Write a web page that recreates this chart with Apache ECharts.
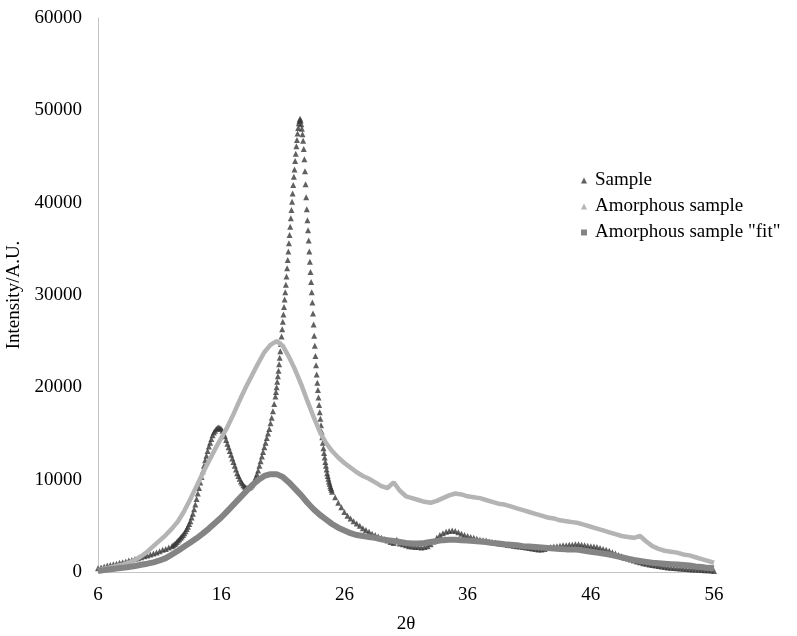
<!DOCTYPE html>
<html>
<head>
<meta charset="utf-8">
<script src="https://cdn.jsdelivr.net/npm/echarts@6/dist/echarts.min.js"></script>
<style>
  html, body { margin: 0; padding: 0; background: #fff; }
  #chart { width: 797px; height: 636px; }
</style>
</head>
<body>
<div id="chart"></div>
<script>
// ---- Axis ticks ----
const xTicks = [6, 16, 26, 36, 46, 56];
const yTicks = [0, 10000, 20000, 30000, 40000, 50000, 60000];

// ---- Sample (measured every step; segments of the 2θ scan) ----
// 6.00 – 11.75, step 0.25
const sampleLowStart = 6.0, sampleLowStep = 0.25;
const sampleLow = [
  400, 500, 600, 700, 750, 850, 900, 1000,
  1050, 1150, 1250, 1300, 1400, 1500, 1600, 1700,
  1800, 1900, 2000, 2100, 2250, 2400, 2500, 2650
];
// 12.0 – 20.4, step 0.1
const sampleMidStart = 12.0, sampleMidStep = 0.1;
const sampleMid = [
  2800, 2900, 3000, 3100, 3250, 3400, 3550, 3700, 3850, 4000,
  4200, 4400, 4650, 4900, 5200, 5500, 5900, 6300, 6800, 7300,
  7900, 8500, 9100, 9700, 10300, 10900, 11500, 12100, 12600, 13100,
  13600, 14000, 14400, 14800, 15100, 15300, 15500, 15600, 15650, 15600,
  15500, 15300, 15000, 14700, 14300, 13900, 13500, 13100, 12700, 12300,
  11900, 11500, 11100, 10700, 10400, 10100, 9800, 9600, 9400, 9250,
  9150, 9100, 9100, 9150, 9250, 9400, 9600, 9900, 10200, 10600,
  11000, 11500, 12000, 12500, 13000, 13500, 14000, 14500, 15000, 15500,
  16100, 16700, 17400, 18200, 19000
];
// 20.45 – 25.00, step 0.05 (main crystalline peak)
const samplePeakStart = 20.45, samplePeakStep = 0.05;
const samplePeak = [
  19500, 20000, 20600, 21200, 21800, 22500, 23200, 23900, 24700, 25500,
  26300, 27100, 27900, 28700, 29500, 30300, 31100, 32000, 32900, 33800,
  34700, 35600, 36500, 37400, 38300, 39200, 40100, 41000, 41900, 42800,
  43600, 44500, 45300, 46100, 46800, 47500, 48100, 48600, 48900, 49100,
  48900, 48500, 48000, 47400, 46700, 45800, 44700, 43400, 42000, 40600,
  39300, 38100, 37000, 35900, 34700, 33600, 32500, 31400, 30300, 29200,
  28000, 26800, 25600, 24500, 23400, 22400, 21400, 20500, 19700, 18900,
  18100, 17300, 16600, 15900, 15200, 14600, 14000, 13400, 12900, 12400,
  11900, 11500, 11100, 10700, 10400, 10100, 9800, 9550, 9300, 9100,
  8900, 8700
];
// 25.25 – 56.00, step 0.25
const sampleHighStart = 25.25, sampleHighStep = 0.25;
const sampleHigh = [
  8100, 7500, 7000, 6500, 6100, 5800, 5500, 5250,
  5000, 4750, 4550, 4350, 4150, 4000, 3850, 3700,
  3550, 3400, 3250, 3150, 3500, 3100, 3000, 2900,
  2800, 2750, 2700, 2700, 2650, 2700, 2800, 3000,
  3300, 3700, 4000, 4200, 4350, 4450, 4500, 4450,
  4300, 4150, 4000, 3900, 3800, 3700, 3600, 3500,
  3450, 3400, 3300, 3250, 3200, 3100, 3050, 3000,
  2950, 2900, 2850, 2800, 2750, 2700, 2650, 2600,
  2550, 2500, 2450, 2450, 2500, 2600, 2700, 2750,
  2800, 2850, 2900, 2900, 2950, 2950, 3000, 3000,
  2950, 2900, 2850, 2800, 2750, 2700, 2600, 2500,
  2400, 2300, 2150, 2000, 1850, 1700, 1550, 1450,
  1350, 1250, 1150, 1050, 950, 900, 800, 750,
  700, 650, 600, 550, 500, 450, 420, 400,
  370, 350, 320, 300, 280, 260, 240, 220,
  200, 180, 150, 100
];

// ---- Amorphous sample, 6 – 56, step 0.5 ----
const amorphousStart = 6.0, amorphousStep = 0.5;
const amorphous = [
  200, 350, 500, 650, 800, 1000, 1300, 1700, 2200, 2800,
  3400, 4000, 4700, 5500, 6600, 7900, 9300, 10700, 12000, 13300,
  14500, 15700, 17100, 18600, 20000, 21300, 22600, 23800, 24600, 25000,
  24500, 23300, 21900, 20300, 18500, 16800, 15200, 14000, 13100, 12400,
  11800, 11300, 10800, 10400, 10100, 9700, 9300, 9100, 9700, 8800,
  8200, 8000, 7800, 7600, 7500, 7700, 8000, 8300, 8500, 8400,
  8200, 8100, 8000, 7800, 7600, 7400, 7300, 7100, 6900, 6700,
  6500, 6300, 6100, 5900, 5800, 5600, 5500, 5400, 5300, 5100,
  4900, 4700, 4500, 4300, 4100, 3900, 3800, 3700, 3900, 3300,
  2800, 2500, 2300, 2200, 2100, 1900, 1800, 1600, 1400, 1200,
  1000
];

// ---- Amorphous sample "fit", 6 – 56, step 0.5 ----
const fitStart = 6.0, fitStep = 0.5;
const amorphousFit = [
  100, 200, 300, 380, 450, 550, 650, 780, 900, 1050,
  1250, 1500, 1900, 2300, 2750, 3200, 3650, 4150, 4700, 5300,
  5900, 6600, 7300, 8000, 8700, 9400, 9950, 10400, 10600, 10600,
  10300, 9700, 9000, 8300, 7500, 6800, 6200, 5700, 5200, 4800,
  4500, 4200, 4000, 3900, 3800, 3700, 3550, 3450, 3350, 3250,
  3150, 3100, 3100, 3150, 3250, 3350, 3450, 3500, 3500, 3450,
  3400, 3350, 3300, 3250, 3150, 3100, 3000, 2950, 2900, 2800,
  2750, 2700, 2650, 2600, 2550, 2500, 2450, 2450, 2400, 2300,
  2200, 2100, 2000, 1900, 1750, 1600, 1450, 1300, 1200, 1100,
  1000, 950, 900, 850, 800, 750, 700, 600, 550, 450,
  400
];

const seriesNames = ['Sample', 'Amorphous sample', 'Amorphous sample "fit"'];

function pairs(start, step, values) {
  return values.map((v, i) => [+(start + i * step).toFixed(3), v]);
}

const sampleData = []
  .concat(pairs(sampleLowStart, sampleLowStep, sampleLow))
  .concat(pairs(sampleMidStart, sampleMidStep, sampleMid))
  .concat(pairs(samplePeakStart, samplePeakStep, samplePeak))
  .concat(pairs(sampleHighStart, sampleHighStep, sampleHigh));

const FONT = 'Liberation Serif';
const cDark = '#383838', cLight = '#b4b4b4', cMid = '#848484';

const chart = echarts.init(document.getElementById('chart'), null, { renderer: 'canvas' });
chart.setOption({
  animation: false,
  backgroundColor: '#ffffff',
  grid: { left: 98, right: 83, top: 18, bottom: 64, containLabel: false, outerBoundsMode: 'none' },
  legend: {
    orient: 'vertical',
    left: 576,
    top: 166,
    itemWidth: 6,
    itemHeight: 6,
    itemGap: 7,
    textStyle: { fontFamily: FONT, fontSize: 19, color: '#000', padding: [0, 0, 0, 3] },
    data: [
      { name: seriesNames[0], icon: 'triangle', itemStyle: { color: cDark } },
      { name: seriesNames[1], icon: 'triangle', itemStyle: { color: cLight } },
      { name: seriesNames[2], icon: 'rect', itemStyle: { color: cMid } }
    ]
  },
  xAxis: {
    type: 'value',
    min: xTicks[0],
    max: xTicks[xTicks.length - 1],
    interval: xTicks[1] - xTicks[0],
    name: '2θ',
    nameLocation: 'middle',
    nameGap: 43,
    nameTextStyle: { fontFamily: FONT, fontSize: 19, color: '#000' },
    axisLine: { lineStyle: { color: '#c4c4c4', width: 1 } },
    axisTick: { show: false },
    splitLine: { show: false },
    axisLabel: { fontFamily: FONT, fontSize: 19, color: '#000', margin: 14 }
  },
  yAxis: {
    type: 'value',
    min: yTicks[0],
    max: yTicks[yTicks.length - 1],
    interval: yTicks[1] - yTicks[0],
    name: 'Intensity/A.U.',
    nameLocation: 'middle',
    nameGap: 74,
    nameTextStyle: { fontFamily: FONT, fontSize: 19, color: '#000' },
    axisLine: { show: true, lineStyle: { color: '#c4c4c4', width: 1 } },
    axisTick: { show: false },
    splitLine: { show: false },
    axisLabel: { fontFamily: FONT, fontSize: 19, color: '#000', margin: 16, formatter: v => String(v) }
  },
  series: [
    {
      name: seriesNames[0],
      type: 'scatter',
      symbol: 'triangle',
      symbolSize: 6,
      itemStyle: { color: cDark },
      data: sampleData,
      z: 2
    },
    {
      name: seriesNames[1],
      type: 'line',
      showSymbol: false,
      symbol: 'none',
      itemStyle: { color: cLight },
      lineStyle: { color: cLight, width: 4.5 },
      data: pairs(amorphousStart, amorphousStep, amorphous),
      z: 3
    },
    {
      name: seriesNames[2],
      type: 'line',
      showSymbol: false,
      symbol: 'none',
      itemStyle: { color: cMid },
      lineStyle: { color: cMid, width: 6 },
      data: pairs(fitStart, fitStep, amorphousFit),
      z: 4
    }
  ]
});
</script>
</body>
</html>
